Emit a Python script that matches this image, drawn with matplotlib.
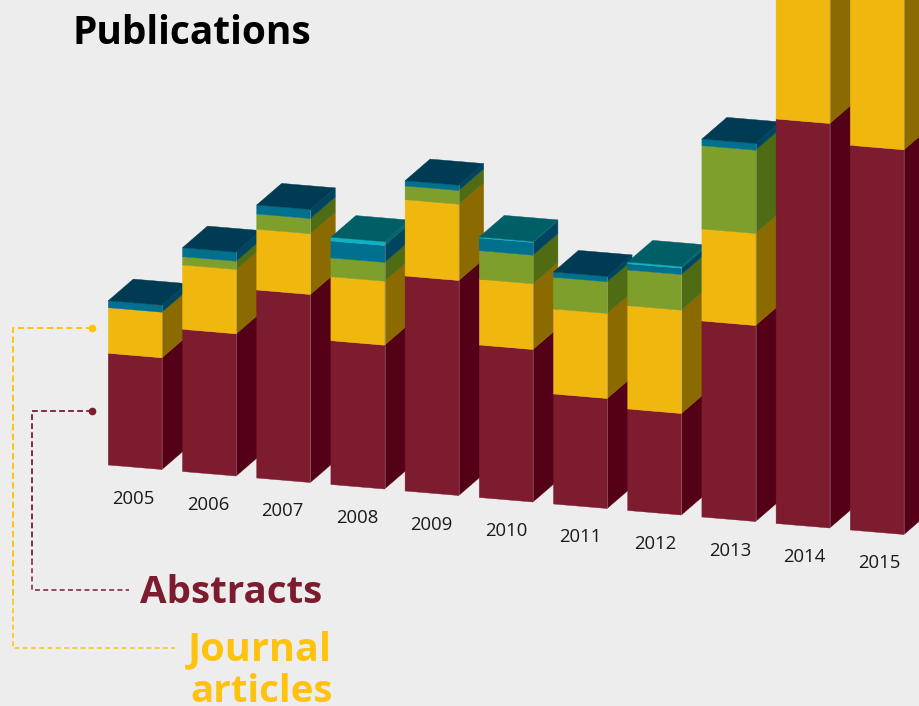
import matplotlib
matplotlib.use('Agg')
from matplotlib import pyplot as plt

plt.rcParams['font.family'] = ['Open Sans', 'DejaVu Sans']

# Heights (no axis in the original, so units are screen px)
years = ['2005', '2006', '2007', '2008', '2009', '2010', '2011', '2012', '2013', '2014', '2015']
abstracts = [111.7, 142.2, 188, 143.8, 215, 152.5, 110, 101.5, 196, 404.5, 384.7]
journal = [45.6, 64.3, 60.7, 64, 76.3, 65.7, 85, 103.3, 92, 200, 200]
green_series = [0, 8.3, 15.3, 18.8, 13.7, 28.6, 31.7, 35.7, 83.3, 0, 0]
blue_series = [7, 9, 9, 16.9, 5.3, 12.7, 5.3, 6.3, 6.7, 0, 0]
cyan_series = [0, 0, 0, 3.8, 0, 1, 0, 1.7, 0, 0, 0]

# front colour, side colour, top colour
styles = [
    ('#7d1b2f', '#540016', '#540016'),
    ('#f0b70f', '#8b6b00', '#8b6b00'),
    ('#7e9f2b', '#4f6b14', '#4f6b14'),
    ('#00708f', '#004560', '#003b54'),
    ('#0fb1c4', '#006672', '#005f66'),
]
series = [abstracts, journal, green_series, blue_series, cyan_series]

# Oblique projection of the bars
X0, Y0 = 108.3, 465.0
STEP_X, STEP_Y = 74.2, 6.5
BAR_W, BAR_SLOPE = 53.6, 4.5
DEPTH_X, DEPTH_Y = 25.0, -21.6

fig = plt.figure(figsize=(9.19, 7.06), dpi=100, facecolor='#ededed')
ax = fig.add_axes([0, 0, 1, 1])
ax.set_xlim(0, 919)
ax.set_ylim(706, 0)
ax.axis('off')


def project(i, u, d, h):
    # i bar index, u across the bar 0-1, d into the page 0-1, h stacked height
    x = X0 + STEP_X * i + BAR_W * u + DEPTH_X * d
    y = Y0 + STEP_Y * i + BAR_SLOPE * u + DEPTH_Y * d - h
    return x, y


def face(corners, colour):
    xs, ys = zip(*corners)
    ax.fill(xs, ys, facecolor=colour, edgecolor=colour, linewidth=0.3)


for i, year in enumerate(years):
    base = 0
    top_colour = None
    for values, (front, side, top) in zip(series, styles):
        h = values[i]
        if h == 0:
            continue
        face([project(i, 1, 0, base), project(i, 1, 1, base),
              project(i, 1, 1, base + h), project(i, 1, 0, base + h)], side)
        face([project(i, 0, 0, base), project(i, 1, 0, base),
              project(i, 1, 0, base + h), project(i, 0, 0, base + h)], front)
        base += h
        top_colour = top
    face([project(i, 0, 0, base), project(i, 1, 0, base),
          project(i, 1, 1, base), project(i, 0, 1, base)], top_colour)
    # pale highlight on the front corner of the bar
    ax.plot(*zip(project(i, 1, 0, 0), project(i, 1, 0, base)),
            color='#ffffff', alpha=0.22, lw=0.7)
    lx, ly = project(i, 0, 0, 0)
    ax.text(lx + 25 + 0.37 * i, ly + 33.5, year, ha='center', va='center', fontsize=13.3, color='#1a1a1a')

# Leader lines to the legend labels
ax.plot([92, 13, 13], [328, 328, 600], color='#ffc20e', lw=1.4, ls=(0, (3.2, 1.8)))
ax.plot([13, 13, 175], [600, 648, 648], color='#ffc20e', lw=1.1, ls=(0, (3.2, 2.2)))
ax.plot([92], [328], 'o', color='#ffc20e', ms=4.5)
ax.plot([92, 32, 32], [411, 411, 560], color='#7d1b2f', lw=1.3, ls=(0, (3.2, 1.8)))
ax.plot([32, 32, 129], [560, 590, 590], color='#7d1b2f', lw=1.1, ls=(0, (3.2, 2.2)))
ax.plot([92], [411], 'o', color='#7d1b2f', ms=4.5)

ax.text(73, 44, 'Publications', fontsize=28, fontweight='bold', color='black', ha='left', va='baseline')
ax.text(322.5, 603, 'Abstracts', fontsize=27.7, fontweight='bold', color='#7d1b2f', ha='right', va='baseline')
ax.text(332, 660, 'Journal', fontsize=28.5, fontweight='bold', color='#ffc20e', ha='right', va='baseline')
ax.text(332.5, 701.5, 'articles', fontsize=27.7, fontweight='bold', color='#ffc20e', ha='right', va='baseline')

fig.savefig('out.png', dpi=100, facecolor=fig.get_facecolor())
